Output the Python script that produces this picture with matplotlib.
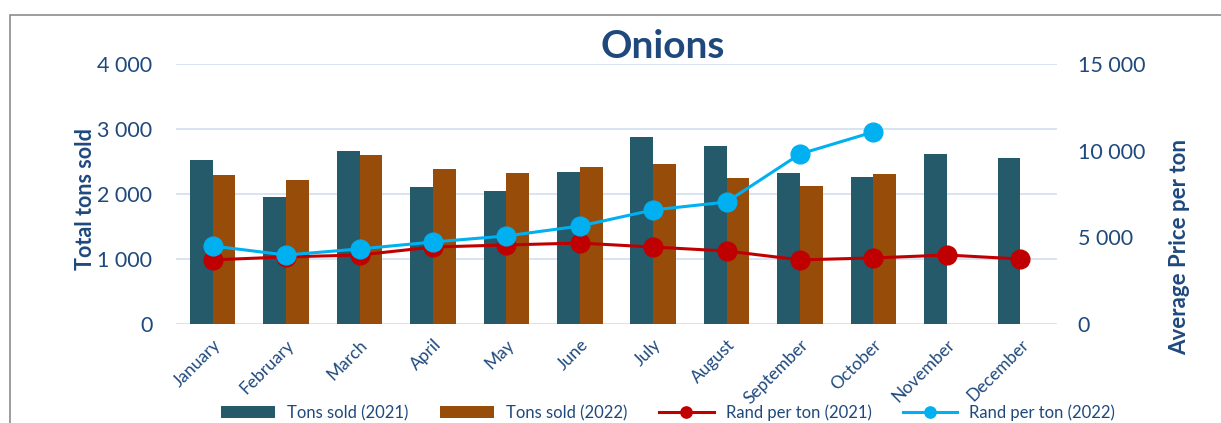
import matplotlib.pyplot as plt
from matplotlib.patches import Rectangle
from matplotlib.ticker import FuncFormatter
import numpy as np

months = ['January', 'February', 'March', 'April', 'May', 'June', 'July',
          'August', 'September', 'October', 'November', 'December']

# tons sold
tons_2021 = [2520, 1955, 2660, 2110, 2045, 2340, 2880, 2740, 2325, 2265, 2615, 2555]
tons_2022 = [2290, 2215, 2600, 2385, 2325, 2415, 2460, 2250, 2120, 2305]

# rand per ton
rand_2021 = [3700, 3870, 3980, 4440, 4560, 4670, 4440, 4210, 3700, 3810, 3980, 3750]
rand_2022 = [4500, 3980, 4330, 4730, 5080, 5650, 6580, 7040, 9810, 11080]

navy = '#1F497D'
c21 = '#245A6A'
c22 = '#974C0A'
red = '#C00000'
blue = '#00B0F0'

plt.rcParams['font.family'] = ['Lato', 'DejaVu Sans']

fig = plt.figure(figsize=(12.21, 4.23), dpi=100)
ax = fig.add_axes([176 / 1221, 1 - 324 / 423, (1057 - 176) / 1221, 260 / 423])

x = np.arange(len(months))
w = 0.31
ax.bar(x[:len(tons_2021)] - w / 2, tons_2021, w, color=c21, label='Tons sold (2021)', zorder=2)
ax.bar(x[:len(tons_2022)] + w / 2, tons_2022, w, color=c22, label='Tons sold (2022)', zorder=2)
ax.set_ylim(0, 4000)
ax.set_xlim(-0.5, len(months) - 0.5)
ax.set_yticks([0, 1000, 2000, 3000, 4000])
fmt = FuncFormatter(lambda v, p: f'{int(v):,}'.replace(',', ' '))
ax.yaxis.set_major_formatter(fmt)
ax.grid(axis='y', color='#D6E2F2', lw=1.3, zorder=0)
for s in ax.spines.values():
    s.set_visible(False)
ax.tick_params(axis='y', length=0, pad=17, labelsize=15.5, labelcolor=navy)
ax.tick_params(axis='x', length=0, pad=9, labelsize=12.5, labelcolor=navy)
ax.set_xticks(x)
ax.set_xticklabels(months, rotation=45, ha='right', rotation_mode='anchor')

ax2 = ax.twinx()
ax2.plot(x[:len(rand_2021)], rand_2021, color=red, lw=2.2, marker='o', ms=13.5,
         label='Rand per ton (2021)', zorder=3)
ax2.plot(x[:len(rand_2022)], rand_2022, color=blue, lw=2.2, marker='o', ms=13.5,
         label='Rand per ton (2022)', zorder=4)
ax2.set_ylim(0, 15000)
ax2.set_yticks([0, 5000, 10000, 15000])
ax2.yaxis.set_major_formatter(fmt)
for s in ax2.spines.values():
    s.set_visible(False)
ax2.tick_params(axis='y', length=0, pad=15, labelsize=15.5, labelcolor=navy)

fig.text(663 / 1221, 1 - 47 / 423, 'Onions', fontsize=28, fontweight='bold',
         color=navy, ha='center', va='center')
fig.text(85 / 1221, 1 - 199 / 423, 'Total tons sold', fontsize=15.5, fontweight='bold',
         color=navy, rotation=90, ha='center', va='center')
fig.text(1180 / 1221, 1 - 247 / 423, 'Average Price per ton', fontsize=16,
         fontweight='bold', color=navy, rotation=90, ha='center', va='center')

h1, l1 = ax.get_legend_handles_labels()
h2, l2 = ax2.get_legend_handles_labels()
leg = fig.legend(h1 + h2, l1 + l2, ncol=4, loc='center', bbox_to_anchor=(668 / 1221, 0.024),
                 frameon=False, fontsize=12, handlelength=3.25, columnspacing=1.9,
                 handletextpad=0.72, markerscale=0.6)
for t in leg.get_texts():
    t.set_color(navy)

fig.add_artist(Rectangle((10 / 1221, -0.2), 1.2, 1 - 15 / 423 + 0.2,
                         transform=fig.transFigure, fill=False,
                         edgecolor='#8C8C8C', lw=1.2))

fig.savefig('out.png', dpi=100)
